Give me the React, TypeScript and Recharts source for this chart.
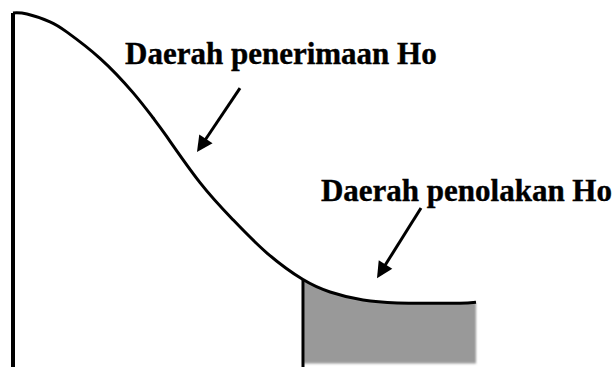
import { ComposedChart, Line, Area, XAxis, YAxis, ReferenceLine, ReferenceDot } from "recharts";

// curve: x = test statistic, y = relative density
const xValues = [0, 0.14, 0.37, 0.54, 0.87, 1.2, 1.4, 1.54, 1.87, 2.2, 2.54, 2.9, 3.17, 3.5, 3.84, 4.17, 4.47, 4.63];
const density = [1.0, 0.997, 0.975, 0.946, 0.872, 0.775, 0.704, 0.65, 0.521, 0.416, 0.322, 0.247, 0.212, 0.189, 0.181, 0.18, 0.18, 0.183];

const criticalX = 2.9;
const criticalY = 0.247;

const acceptLabel = "Daerah penerimaan Ho";
const rejectLabel = "Daerah penolakan Ho";

// arrows: [tail, tip]
const acceptArrow = [{ x: 2.27, y: 0.788 }, { x: 1.84, y: 0.607 }];
const rejectArrow = [{ x: 4.08, y: 0.449 }, { x: 3.64, y: 0.251 }];

const acceptLabelPos = { x: 1.12, y: 0.857 };
const rejectLabelPos = { x: 5.99, y: 0.469 };

const data = xValues.map((x, i) => ({
  x,
  curve: density[i],
  reject: x >= criticalX ? density[i] : null,
}));

const ArrowShape = (props: any) => {
  const { x1, y1, x2, y2 } = props;
  if ([x1, y1, x2, y2].some((v) => typeof v !== "number" || isNaN(v))) return null;
  const dx = x2 - x1;
  const dy = y2 - y1;
  const len = Math.sqrt(dx * dx + dy * dy);
  const ux = dx / len;
  const uy = dy / len;
  const headLen = 16;
  const halfW = 8;
  const bx = x2 - ux * headLen;
  const by = y2 - uy * headLen;
  const pts = `${x2},${y2} ${bx - uy * halfW},${by + ux * halfW} ${bx + uy * halfW},${by - ux * halfW}`;
  return (
    <g>
      <line x1={x1} y1={y1} x2={bx + ux * 2} y2={by + uy * 2} stroke="#000" strokeWidth={3} />
      <polygon points={pts} fill="#000" />
    </g>
  );
};

const labelShape = (text: string, anchor: "start" | "end") => (props: any) => (
  <text
    x={props.cx}
    y={props.cy}
    textAnchor={anchor}
    fontFamily="'Liberation Serif', 'Times New Roman', serif"
    fontWeight="bold"
    fontSize={31}
    fill="#000"
    stroke="#000"
    strokeWidth={0.4}
  >
    {text}
  </text>
);

export default function App() {
  return (
    <div style={{ position: "absolute", left: 0, top: 0, width: 614, height: 367, background: "#fff" }}>
      <svg width={0} height={0} style={{ position: "absolute" }}>
        <defs>
          <filter id="softEdge" x="-5%" y="-5%" width="110%" height="110%">
            <feGaussianBlur stdDeviation={1.2} />
          </filter>
        </defs>
      </svg>
      <ComposedChart width={614} height={367} data={data} margin={{ top: 13, right: 1, bottom: 0, left: 13 }}>
        <XAxis type="number" dataKey="x" domain={[0, 6]} hide />
        <YAxis type="number" domain={[0, 1]} hide />
        <Area
          type="natural"
          dataKey="reject"
          baseValue={0.01}
          stroke="none"
          fill="#999999"
          fillOpacity={1}
          isAnimationActive={false}
          style={{ filter: "url(#softEdge)" }}
        />
        <Line
          type="natural"
          dataKey="curve"
          stroke="#000"
          strokeWidth={3}
          dot={false}
          isAnimationActive={false}
        />
        <ReferenceLine x={0} stroke="#000" strokeWidth={4} />
        <ReferenceLine
          segment={[{ x: criticalX, y: 0 }, { x: criticalX, y: criticalY }]}
          stroke="#000"
          strokeWidth={3}
        />
        <ReferenceLine segment={acceptArrow} shape={ArrowShape} />
        <ReferenceLine segment={rejectArrow} shape={ArrowShape} />
        <ReferenceDot x={acceptLabelPos.x} y={acceptLabelPos.y} shape={labelShape(acceptLabel, "start")} />
        <ReferenceDot x={rejectLabelPos.x} y={rejectLabelPos.y} shape={labelShape(rejectLabel, "end")} />
      </ComposedChart>
    </div>
  );
}
